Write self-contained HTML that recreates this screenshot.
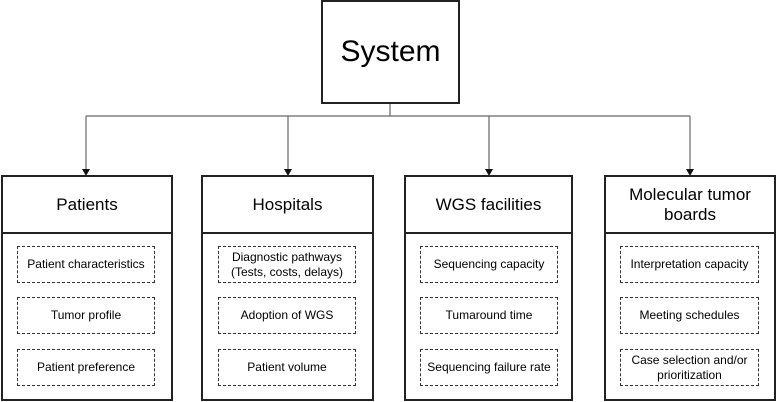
<!DOCTYPE html>
<html><head><meta charset="utf-8"><style>
body{margin:0;width:777px;height:402px;background:#fff;position:relative;overflow:hidden;font-family:"Liberation Sans",Arial,sans-serif;color:#000}
.a{position:absolute;box-sizing:border-box}
.box{border:2px solid #222;background:#fff}
.hdr{border-bottom:2px solid #222;display:flex;align-items:center;justify-content:center;text-align:center;font-size:17px;line-height:20px;position:absolute;left:0;right:0;top:0;height:55px}
.in{border:1px dashed #333;display:flex;align-items:center;justify-content:center;text-align:center;font-size:12px;line-height:15px;height:37px}
</style></head><body>
<div class="a box" style="left:321px;top:0;width:139px;height:104px;display:flex;align-items:center;justify-content:center;font-size:30px">System</div>
<svg class="a" style="left:0;top:0" width="777" height="402">
<g stroke="#666" stroke-width="1.2" fill="none">
<line x1="390" y1="104" x2="390" y2="116"/>
<line x1="86" y1="116" x2="690" y2="116"/>
<line x1="86" y1="116" x2="86" y2="170"/>
<line x1="288" y1="116" x2="288" y2="170"/>
<line x1="489" y1="116" x2="489" y2="170"/>
<line x1="690" y1="116" x2="690" y2="170"/>
</g>
<g fill="#111">
<polygon points="82,169 90,169 86,176"/>
<polygon points="284,169 292,169 288,176"/>
<polygon points="485,169 493,169 489,176"/>
<polygon points="686,169 694,169 690,176"/>
</g>
</svg>

<div class="a box" style="left:1px;top:175px;width:172px;height:226px"><div class="hdr">Patients</div></div>
<div class="a in" style="left:17px;top:246px;width:138px">Patient characteristics</div>
<div class="a in" style="left:17px;top:297px;width:138px">Tumor profile</div>
<div class="a in" style="left:17px;top:349px;width:138px">Patient preference</div>

<div class="a box" style="left:201px;top:175px;width:173px;height:226px"><div class="hdr">Hospitals</div></div>
<div class="a in" style="left:218px;top:246px;width:138px">Diagnostic pathways<br>(Tests, costs, delays)</div>
<div class="a in" style="left:218px;top:297px;width:138px">Adoption of WGS</div>
<div class="a in" style="left:218px;top:349px;width:138px">Patient volume</div>

<div class="a box" style="left:404px;top:175px;width:169px;height:226px"><div class="hdr">WGS facilities</div></div>
<div class="a in" style="left:420px;top:246px;width:138px">Sequencing capacity</div>
<div class="a in" style="left:420px;top:297px;width:138px">Tumaround time</div>
<div class="a in" style="left:420px;top:349px;width:138px">Sequencing failure rate</div>

<div class="a box" style="left:604px;top:175px;width:172px;height:226px"><div class="hdr">Molecular tumor<br>boards</div></div>
<div class="a in" style="left:620px;top:246px;width:139px">Interpretation capacity</div>
<div class="a in" style="left:620px;top:297px;width:139px">Meeting schedules</div>
<div class="a in" style="left:620px;top:349px;width:139px">Case selection and/or<br>prioritization</div>
</body></html>
